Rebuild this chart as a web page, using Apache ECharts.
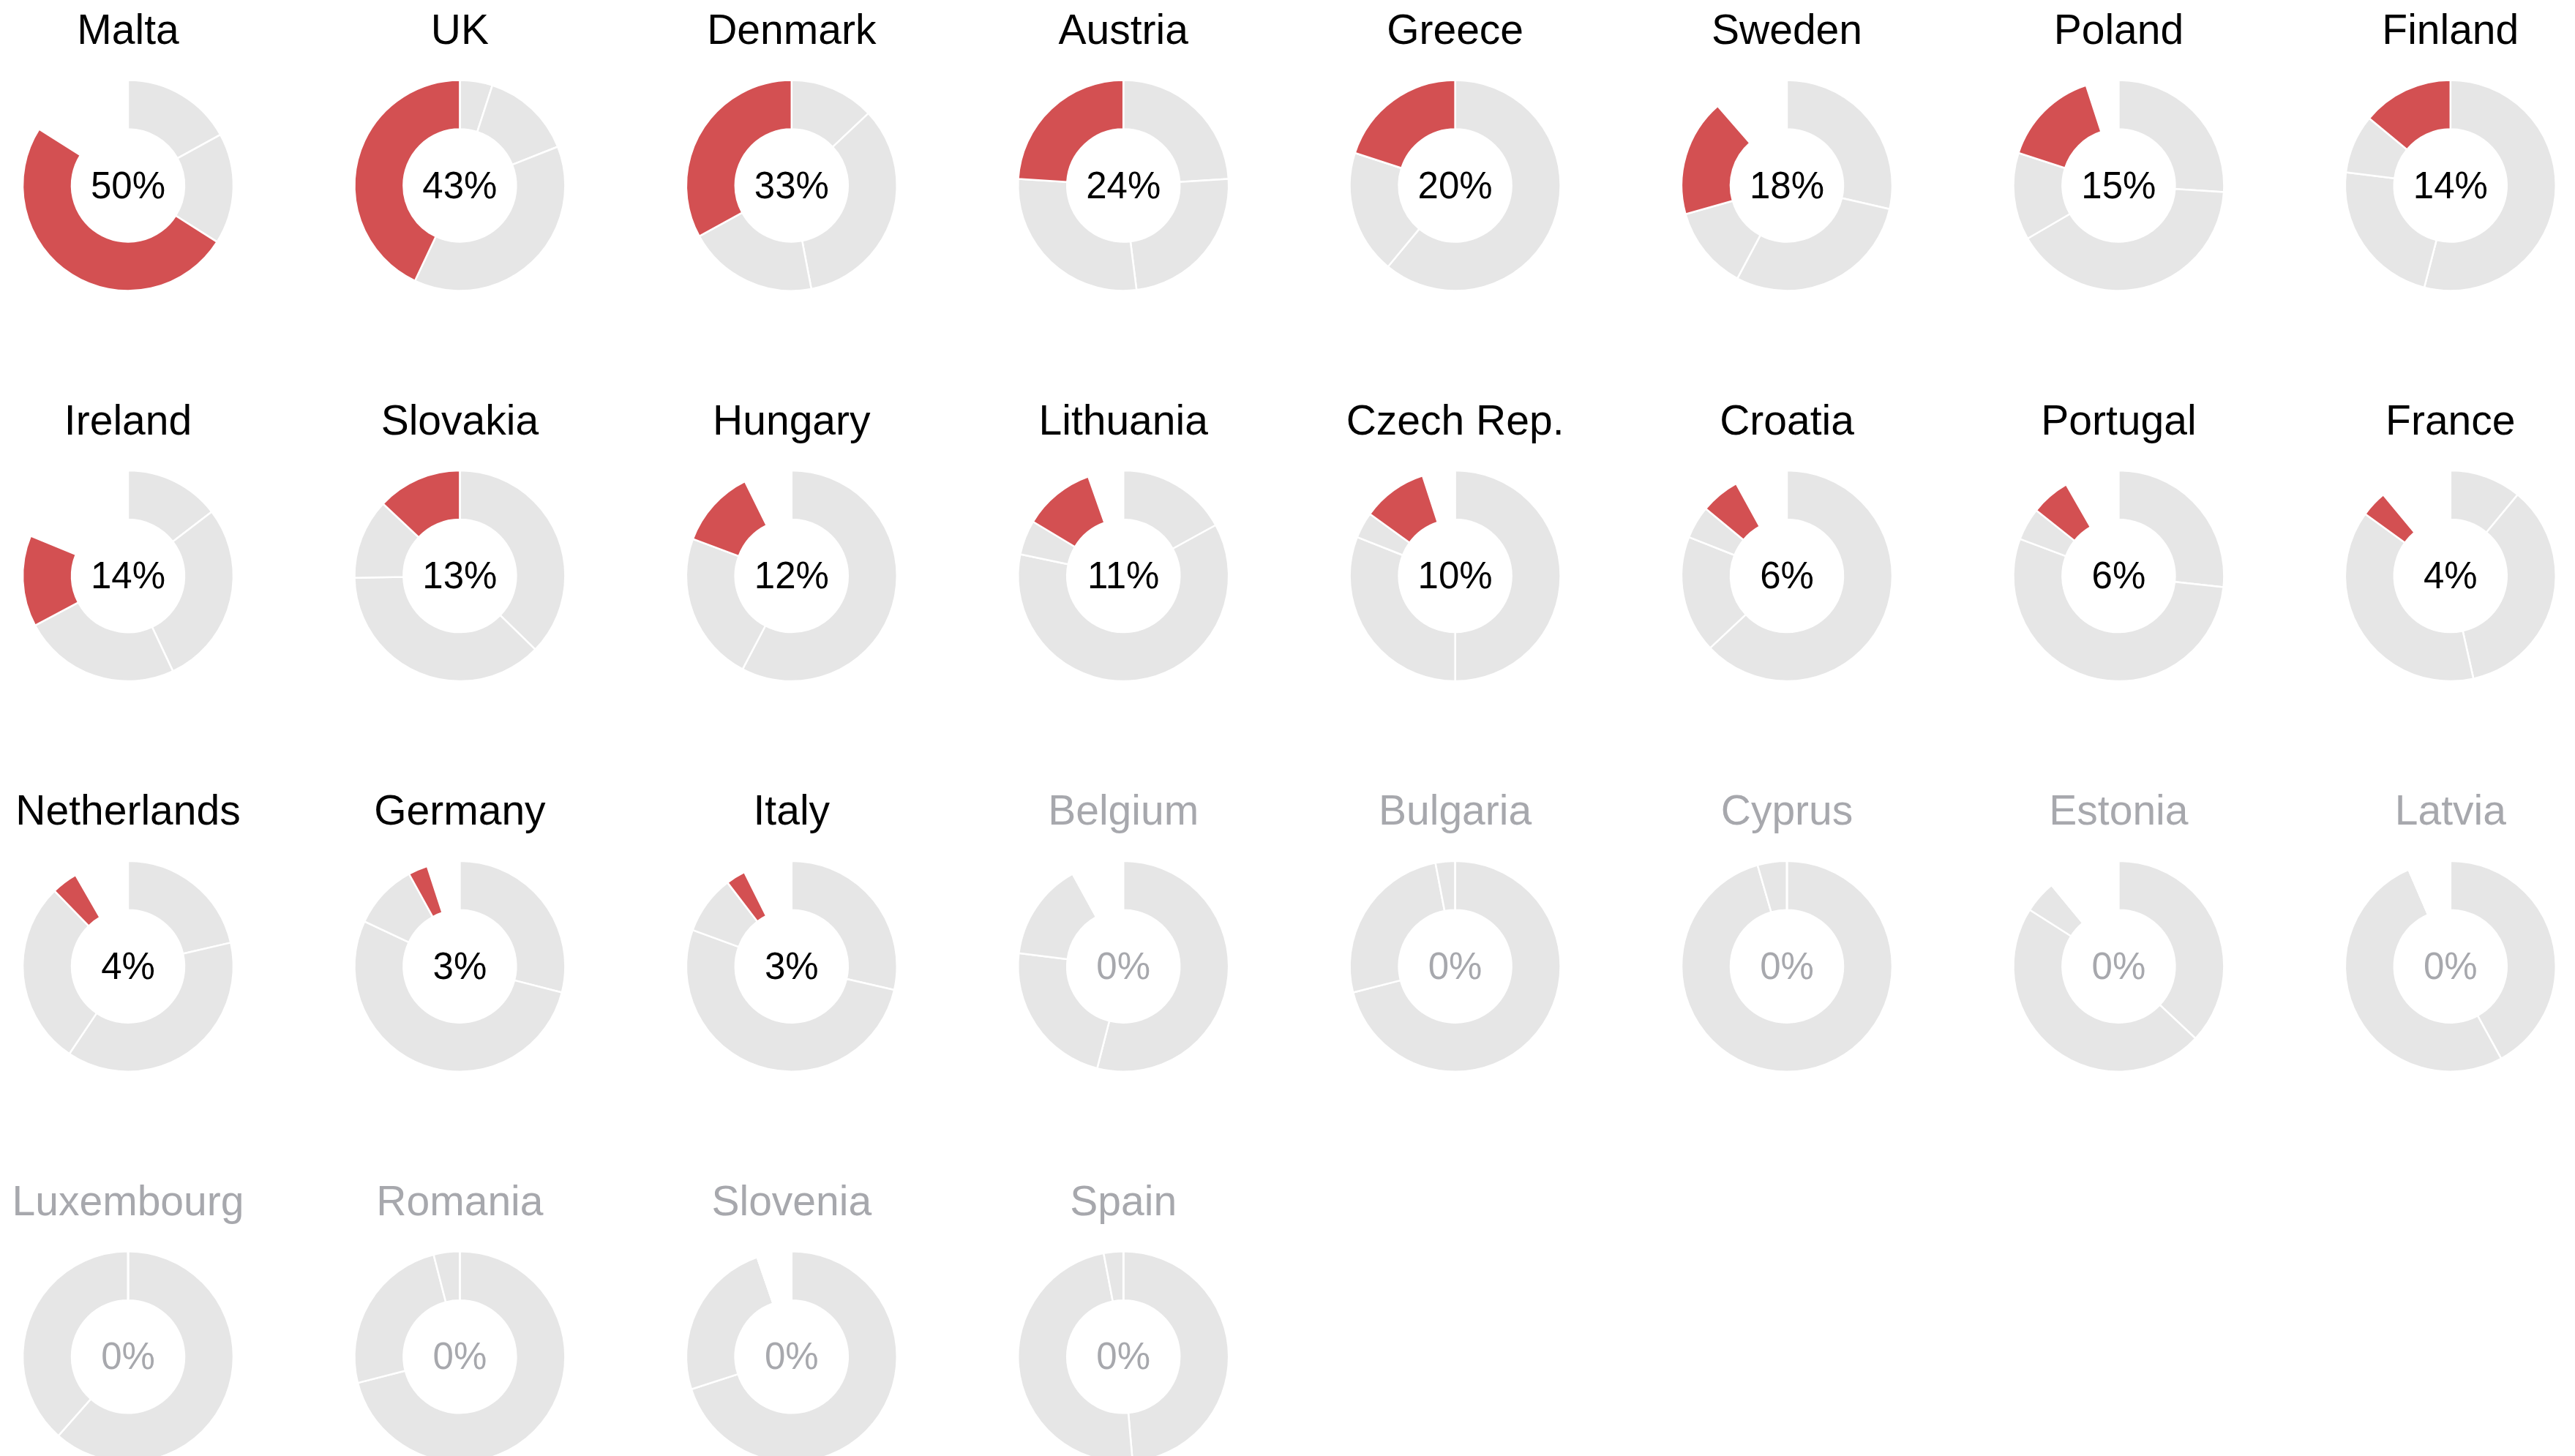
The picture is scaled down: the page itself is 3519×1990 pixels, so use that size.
<!DOCTYPE html>
<html>
<head>
<meta charset="utf-8">
<script src="https://cdn.jsdelivr.net/npm/echarts@6/dist/echarts.min.js"></script>
<style>
html,body{margin:0;padding:0;background:#fff;}
#chart{width:3519px;height:1990px;}
</style>
</head>
<body>
<div id="chart"></div>
<script>
// Country order (left-to-right, top-to-bottom)
const countries = ["Malta","UK","Denmark","Austria","Greece","Sweden","Poland","Finland",
  "Ireland","Slovakia","Hungary","Lithuania","Czech Rep.","Croatia","Portugal","France",
  "Netherlands","Germany","Italy","Belgium","Bulgaria","Cyprus","Estonia","Latvia",
  "Luxembourg","Romania","Slovenia","Spain"];
// Highlighted share (%) — red slice and centre label
const highlight = [50,43,33,24,20,18,15,14, 14,13,12,11,10,6,6,4, 4,3,3,0,0,0,0,0, 0,0,0,0];
// Grey segments, clockwise from 12 o'clock (%)
const grey1 = [17,5,13,24,61,28.6,26,54, 14.6,37.3,57.7,17,50,63,26.7,11, 21.4,29,28.6,54,71,95.5,37,42, 61.5,71,70,48.6];
const grey2 = [17,14,34,24,19,29.2,40.6,23, 28.4,37.4,23,61.3,31,18,54,35.5, 38,53,52,23,26,4.5,47,51.5, 38.5,25,24.7,48.4];
const grey3 = [0,38,20,28,0,12.8,13.4,9, 24.2,12.3,0,5.3,4,5,5,38.5, 28.3,10,9,15,3,0,5,0, 0,4,0,3];
// Unfilled remainder (%)
const blank = [16,0,0,0,0,11.4,5,0, 18.8,0,7.3,5.4,5,8,8.3,11, 8.3,5,7.4,8,0,0,11,6.5, 0,0,5.3,0];

const RED = '#d35052', GREY = '#e6e6e6', TXT_ON = '#000000', TXT_OFF = '#a7a8ad';
const COLS = 8, X0 = 175, DX = 453.4, Y0 = 253.5, DY = 533.6;
const FONT = '"Liberation Sans",Arial,sans-serif';

const series = [], titles = [];
countries.forEach((name, i) => {
  const cx = X0 + DX * (i % COLS);
  const cy = Y0 + DY * Math.floor(i / COLS);
  const on = highlight[i] > 0;
  series.push({
    type: 'pie',
    center: [cx, cy],
    radius: [77, 144],
    startAngle: 90,
    clockwise: true,
    silent: true,
    animation: false,
    label: {show: false},
    labelLine: {show: false},
    itemStyle: {borderColor: '#ffffff', borderWidth: 2.5},
    data: [
      {name: 'a', value: grey1[i], itemStyle: {color: GREY}},
      {name: 'b', value: grey2[i], itemStyle: {color: GREY}},
      {name: 'c', value: grey3[i], itemStyle: {color: GREY}},
      {name: 'v', value: highlight[i], itemStyle: {color: RED}},
      {name: 'n', value: blank[i], itemStyle: {color: 'rgba(255,255,255,0)', borderWidth: 0}}
    ]
  });
  titles.push({
    text: name, left: cx, top: cy - 209, padding: 0,
    textAlign: 'center', textVerticalAlign: 'middle',
    textStyle: {fontFamily: FONT, fontSize: 57, fontWeight: 'normal', color: on ? TXT_ON : TXT_OFF}
  });
  titles.push({
    text: highlight[i] + '%', left: cx, top: cy + 3, padding: 0,
    textAlign: 'center', textVerticalAlign: 'middle',
    textStyle: {fontFamily: FONT, fontSize: 51, fontWeight: 'normal', color: on ? TXT_ON : TXT_OFF}
  });
});

const chart = echarts.init(document.getElementById('chart'), null, {renderer: 'canvas'});
chart.setOption({
  backgroundColor: '#ffffff',
  animation: false,
  title: titles,
  series: series
});
</script>
</body>
</html>
